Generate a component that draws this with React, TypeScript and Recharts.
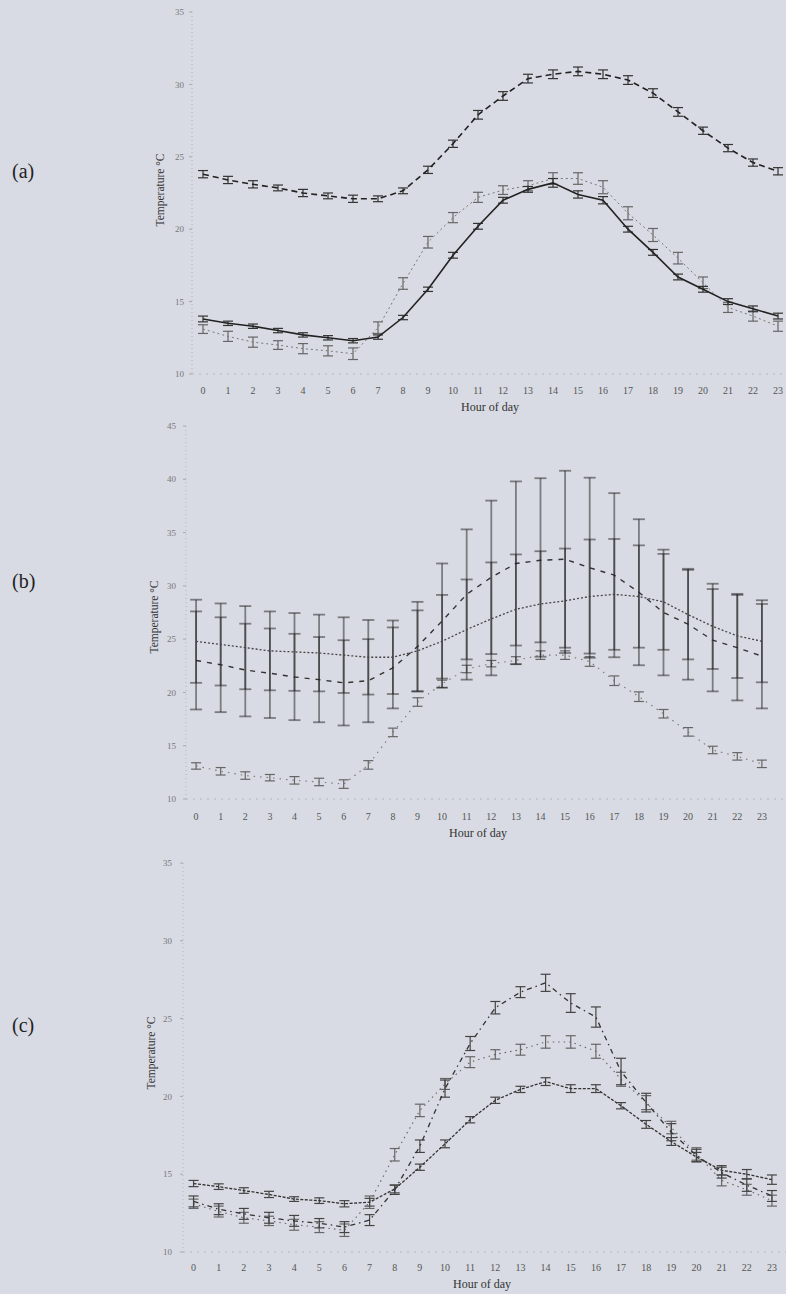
import React from "react";
import { LineChart, Line, XAxis, YAxis, ErrorBar } from "recharts";

// hour of day 0..23
const hours = [0, 1, 2, 3, 4, 5, 6, 7, 8, 9, 10, 11, 12, 13, 14, 15, 16, 17, 18, 19, 20, 21, 22, 23];

// shared dotted series (drawn in all three panels)
const commonTemp = [13.1, 12.6, 12.2, 12.0, 11.75, 11.6, 11.4, 13.2, 16.25, 19.1, 20.8, 22.2, 22.7, 23.0, 23.5, 23.5, 22.9, 21.1, 19.6, 18.0, 16.3, 14.6, 14.0, 13.3];
const commonErr = [0.3, 0.35, 0.35, 0.3, 0.35, 0.35, 0.4, 0.4, 0.4, 0.4, 0.35, 0.35, 0.3, 0.35, 0.4, 0.4, 0.45, 0.45, 0.45, 0.4, 0.4, 0.35, 0.35, 0.35];

// panel (a)
const aDashed = [23.8, 23.4, 23.1, 22.85, 22.5, 22.3, 22.1, 22.1, 22.65, 24.1, 25.9, 27.9, 29.2, 30.4, 30.7, 30.9, 30.7, 30.3, 29.4, 28.1, 26.8, 25.6, 24.6, 24.0];
const aDashedErr = [0.25, 0.25, 0.25, 0.2, 0.25, 0.2, 0.25, 0.2, 0.2, 0.25, 0.25, 0.3, 0.3, 0.3, 0.3, 0.3, 0.3, 0.3, 0.3, 0.3, 0.25, 0.25, 0.25, 0.25];
const aSolid = [13.8, 13.5, 13.3, 13.0, 12.7, 12.5, 12.3, 12.55, 13.9, 15.85, 18.2, 20.2, 22.0, 22.75, 23.2, 22.4, 22.0, 20.0, 18.4, 16.7, 15.85, 15.0, 14.5, 14.0];
const aSolidErr = [0.2, 0.15, 0.15, 0.15, 0.15, 0.15, 0.15, 0.15, 0.15, 0.15, 0.2, 0.2, 0.2, 0.2, 0.3, 0.25, 0.25, 0.2, 0.2, 0.2, 0.2, 0.2, 0.2, 0.2];

// panel (b)
const bDotted = [24.8, 24.5, 24.2, 23.9, 23.8, 23.7, 23.5, 23.3, 23.3, 23.9, 24.8, 25.9, 26.9, 27.8, 28.3, 28.6, 29.0, 29.2, 29.0, 28.5, 27.3, 26.2, 25.3, 24.8];
const bDottedErr = [3.9, 3.85, 3.9, 3.7, 3.65, 3.6, 3.55, 3.5, 3.45, 3.8, 4.35, 4.7, 5.3, 5.15, 4.95, 4.9, 5.35, 5.2, 4.8, 4.5, 4.2, 4.0, 3.95, 3.85];
const bDashed = [23.0, 22.6, 22.1, 21.8, 21.45, 21.2, 20.9, 21.1, 22.3, 24.3, 26.7, 29.2, 30.8, 32.1, 32.4, 32.5, 31.7, 31.0, 29.4, 27.5, 26.4, 24.9, 24.2, 23.4];
const bDashedErr = [4.6, 4.45, 4.35, 4.2, 4.05, 4.0, 4.0, 3.9, 3.8, 4.2, 5.4, 6.1, 7.2, 7.7, 7.7, 8.3, 8.45, 7.7, 6.85, 5.9, 5.2, 4.8, 4.95, 4.9];

// panel (c)
const cDense = [14.4, 14.2, 13.95, 13.7, 13.4, 13.3, 13.1, 13.2, 14.05, 15.45, 16.95, 18.5, 19.75, 20.45, 20.95, 20.5, 20.5, 19.4, 18.2, 17.1, 16.1, 15.25, 15.0, 14.65];
const cDenseErr = [0.2, 0.18, 0.18, 0.2, 0.15, 0.18, 0.2, 0.25, 0.25, 0.2, 0.25, 0.2, 0.2, 0.2, 0.25, 0.25, 0.25, 0.2, 0.25, 0.25, 0.3, 0.3, 0.3, 0.3];
const cDashDot = [13.25, 12.75, 12.45, 12.2, 12.0, 11.85, 11.6, 12.05, 14.0, 16.8, 20.5, 23.4, 25.7, 26.7, 27.3, 26.0, 25.1, 21.6, 19.6, 17.7, 16.2, 15.1, 14.3, 13.6];
const cDashDotErr = [0.35, 0.35, 0.35, 0.35, 0.35, 0.3, 0.35, 0.35, 0.3, 0.4, 0.55, 0.45, 0.4, 0.35, 0.55, 0.6, 0.65, 0.85, 0.6, 0.55, 0.4, 0.35, 0.4, 0.35];

const yTicksA = [10, 15, 20, 25, 30, 35];
const yTicksB = [10, 15, 20, 25, 30, 35, 40, 45];
const yTicksC = [10, 15, 20, 25, 30, 35];

const FONT = '"Liberation Serif", "DejaVu Serif", "Times New Roman", serif';
const BG = "#d8dbe3";

type Series = {
  key: string;
  values: number[];
  errors: number[];
  stroke: string;
  dash?: string;
  width: number;
  barStroke: string;
  barWidth: number;
  cap: number;
};

type PanelProps = {
  top: number;
  plotTop: number;
  plotBottom: number;
  left: number;
  xDomain: [number, number];
  yDomain: [number, number];
  yTicks: number[];
  yTickMargin: number;
  xTickMargin: number;
  series: Series[];
};

function Panel(p: PanelProps) {
  const rows = hours.map((h, i) => {
    const row: Record<string, number> = { hour: h };
    p.series.forEach((s) => {
      row[s.key] = s.values[i];
      row[s.key + "Err"] = s.errors[i];
    });
    return row;
  });
  const height = p.plotBottom - p.top + 30;
  return (
    <div style={{ position: "absolute", left: 0, top: p.top }}>
      <LineChart
        width={786}
        height={height}
        data={rows}
        margin={{ top: p.plotTop - p.top, right: 0, bottom: 0, left: 0 }}
      >
        <XAxis
          dataKey="hour"
          type="number"
          domain={p.xDomain}
          allowDataOverflow
          ticks={hours}
          interval={0}
          height={30}
          tickLine={false}
          tickMargin={p.xTickMargin}
          axisLine={{ stroke: "#b4b6bc", strokeDasharray: "2 5" }}
          tick={{ fontSize: 10, fill: "#555", fontFamily: FONT }}
        />
        <YAxis
          type="number"
          domain={p.yDomain}
          ticks={p.yTicks}
          allowDataOverflow
          width={p.left}
          tickSize={3}
          tickMargin={p.yTickMargin}
          tickLine={{ stroke: "#aaa" }}
          axisLine={{ stroke: "#b0b2b8", strokeDasharray: "1 3" }}
          tick={{ fontSize: 9, fill: "#777", fontFamily: FONT }}
        />
        {p.series.map((s) => (
          <Line
            key={s.key}
            dataKey={s.key}
            type="linear"
            stroke={s.stroke}
            strokeWidth={s.width}
            strokeDasharray={s.dash}
            dot={false}
            activeDot={false}
            isAnimationActive={false}
          >
            <ErrorBar
              dataKey={s.key + "Err"}
              direction="y"
              width={s.cap}
              stroke={s.barStroke}
              strokeWidth={s.barWidth}
              isAnimationActive={false}
            />
          </Line>
        ))}
      </LineChart>
    </div>
  );
}

const textBase: React.CSSProperties = {
  position: "absolute",
  fontFamily: FONT,
  color: "#333",
  whiteSpace: "nowrap",
};

function Letter({ text, y }: { text: string; y: number }) {
  return <div style={{ ...textBase, left: 12, top: y - 12, fontSize: 20, color: "#222" }}>{text}</div>;
}

function XTitle({ x, y }: { x: number; y: number }) {
  return (
    <div style={{ ...textBase, left: x - 60, width: 120, top: y - 8, textAlign: "center", fontSize: 12 }}>
      Hour of day
    </div>
  );
}

function YTitle({ x, y }: { x: number; y: number }) {
  return (
    <div
      style={{
        ...textBase,
        left: x - 60,
        width: 120,
        top: y - 7,
        textAlign: "center",
        fontSize: 11.5,
        transform: "rotate(-90deg)",
      }}
    >
      Temperature °C
    </div>
  );
}

const seriesA: Series[] = [
  { key: "dot", values: commonTemp, errors: commonErr, stroke: "#777", dash: "2 3", width: 1, barStroke: "#666", barWidth: 1.2, cap: 5 },
  { key: "dash", values: aDashed, errors: aDashedErr, stroke: "#222", dash: "6 4", width: 1.6, barStroke: "#333", barWidth: 1.2, cap: 5 },
  { key: "solid", values: aSolid, errors: aSolidErr, stroke: "#222", width: 1.6, barStroke: "#333", barWidth: 1.2, cap: 5 },
];

const seriesB: Series[] = [
  { key: "dot", values: commonTemp, errors: commonErr, stroke: "#777", dash: "1.5 5", width: 1.1, barStroke: "#666", barWidth: 1.2, cap: 5 },
  { key: "bdash", values: bDashed, errors: bDashedErr, stroke: "#333", dash: "5 6", width: 1.4, barStroke: "rgba(30,30,30,0.5)", barWidth: 1.8, cap: 6 },
  { key: "bdot", values: bDotted, errors: bDottedErr, stroke: "#444", dash: "2 2", width: 1.3, barStroke: "rgba(30,30,30,0.5)", barWidth: 1.8, cap: 6 },
];

const seriesC: Series[] = [
  { key: "dot", values: commonTemp, errors: commonErr, stroke: "#666", dash: "1.5 4", width: 1.1, barStroke: "#666", barWidth: 1.2, cap: 5 },
  { key: "dense", values: cDense, errors: cDenseErr, stroke: "#333", dash: "3 1.5", width: 1.3, barStroke: "#444", barWidth: 1.2, cap: 5 },
  { key: "dashdot", values: cDashDot, errors: cDashDotErr, stroke: "#333", dash: "5 4 1.5 4", width: 1.3, barStroke: "#444", barWidth: 1.2, cap: 5 },
];

export default function App() {
  return (
    <div style={{ position: "absolute", left: 0, top: 0, width: 786, height: 1294, background: BG, overflow: "hidden" }}>
      <Panel
        top={0}
        plotTop={12}
        plotBottom={374}
        left={192}
        xDomain={[-0.44, 23.32]}
        yDomain={[10, 35]}
        yTicks={yTicksA}
        yTickMargin={5}
        xTickMargin={7}
        series={seriesA}
      />
      <Panel
        top={400}
        plotTop={426}
        plotBottom={799}
        left={186}
        xDomain={[-0.41, 23.98]}
        yDomain={[10, 45]}
        yTicks={yTicksB}
        yTickMargin={7}
        xTickMargin={8}
        series={seriesB}
      />
      <Panel
        top={840}
        plotTop={863}
        plotBottom={1252}
        left={183}
        xDomain={[-0.42, 23.56]}
        yDomain={[10, 35]}
        yTicks={yTicksC}
        yTickMargin={8}
        xTickMargin={6}
        series={seriesC}
      />
      <Letter text="(a)" y={172} />
      <Letter text="(b)" y={582} />
      <Letter text="(c)" y={1026} />
      <YTitle x={160} y={191} />
      <YTitle x={154} y={618} />
      <YTitle x={151} y={1054} />
      <XTitle x={490} y={408} />
      <XTitle x={478} y={834} />
      <XTitle x={482} y={1285} />
    </div>
  );
}
